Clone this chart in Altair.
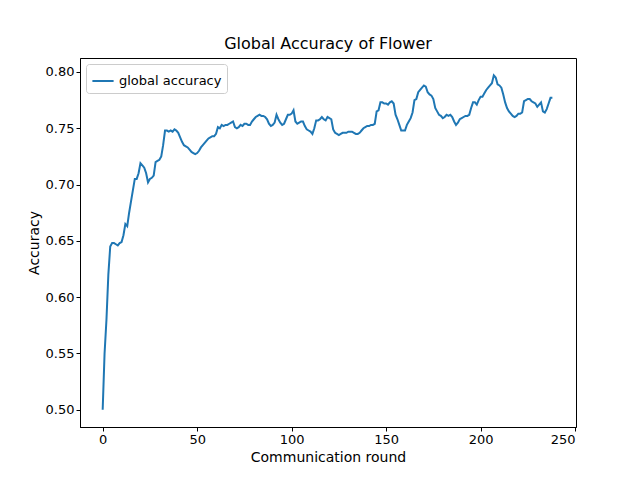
import altair as alt
import pandas as pd

accuracy = [
    0.500, 0.550, 0.580, 0.620, 0.645, 0.648, 0.648, 0.647, 0.646, 0.648,
    0.649, 0.655, 0.665, 0.663, 0.675, 0.685, 0.695, 0.705, 0.705, 0.710,
    0.719, 0.717, 0.715, 0.710, 0.702, 0.705, 0.706, 0.708, 0.720, 0.721,
    0.722, 0.725, 0.735, 0.748, 0.748, 0.747, 0.748, 0.747, 0.749, 0.748,
    0.746, 0.742, 0.738, 0.735, 0.734, 0.733, 0.731, 0.729, 0.728, 0.727,
    0.728, 0.730, 0.733, 0.735, 0.737, 0.739, 0.741, 0.742, 0.743, 0.743,
    0.745, 0.751, 0.750, 0.753, 0.752, 0.753, 0.753, 0.754, 0.755, 0.756,
    0.751, 0.750, 0.751, 0.753, 0.752, 0.754, 0.754, 0.753, 0.753, 0.756,
    0.758, 0.760, 0.761, 0.762, 0.761, 0.761, 0.760, 0.758, 0.754, 0.752,
    0.753, 0.755, 0.762, 0.758, 0.755, 0.753, 0.754, 0.758, 0.762, 0.762,
    0.763, 0.766, 0.756, 0.754, 0.755, 0.756, 0.756, 0.752, 0.749, 0.748,
    0.747, 0.745, 0.750, 0.757, 0.757, 0.758, 0.760, 0.758, 0.757, 0.760,
    0.759, 0.758, 0.749, 0.746, 0.745, 0.744, 0.745, 0.746, 0.746, 0.746,
    0.747, 0.747, 0.747, 0.746, 0.745, 0.745, 0.746, 0.748, 0.750, 0.751,
    0.752, 0.752, 0.753, 0.753, 0.754, 0.765, 0.766, 0.773, 0.773, 0.772,
    0.772, 0.771, 0.773, 0.774, 0.772, 0.762, 0.758, 0.753, 0.748, 0.748,
    0.748, 0.753, 0.756, 0.759, 0.764, 0.775, 0.776, 0.782, 0.784, 0.786,
    0.788, 0.787, 0.782, 0.780, 0.779, 0.776, 0.768, 0.765, 0.762, 0.761,
    0.759, 0.760, 0.762, 0.761, 0.762, 0.760, 0.756, 0.753, 0.755, 0.758,
    0.759, 0.760, 0.761, 0.761, 0.762, 0.768, 0.773, 0.773, 0.771, 0.775,
    0.778, 0.778, 0.781, 0.784, 0.786, 0.788, 0.790, 0.797, 0.795, 0.789,
    0.788, 0.786, 0.780, 0.773, 0.768, 0.765, 0.763, 0.761, 0.760, 0.761,
    0.763, 0.763, 0.764, 0.774, 0.775, 0.776, 0.776, 0.774, 0.773, 0.772,
    0.769, 0.771, 0.773, 0.765, 0.764, 0.767, 0.772, 0.777, 0.777,
]
rounds = list(range(len(accuracy)))

df = pd.DataFrame({"round": rounds, "acc": accuracy, "series": "global accuracy"})

font = "DejaVu Sans"
chart = (
    alt.Chart(df)
    .mark_line(strokeWidth=2, clip=True)
    .encode(
        x=alt.X("round:Q", title="Communication round",
                scale=alt.Scale(domain=[-12, 250.5], nice=False, zero=False),
                axis=alt.Axis(values=[0, 50, 100, 150, 200, 250], grid=False)),
        y=alt.Y("acc:Q", title="Accuracy",
                scale=alt.Scale(domain=[0.4847, 0.8124], nice=False, zero=False),
                axis=alt.Axis(values=[0.50, 0.55, 0.60, 0.65, 0.70, 0.75, 0.80],
                              format=".2f", grid=False)),
        color=alt.Color("series:N", scale=alt.Scale(range=["#1f77b4"]),
                        legend=alt.Legend(title=None, orient="top-left", offset=6,
                                          symbolType="stroke", symbolSize=450,
                                          symbolStrokeWidth=2,
                                          strokeColor="#cccccc", padding=5,
                                          fillColor="white", labelFontSize=13,
                                          labelFont=font, cornerRadius=3)),
    )
    .properties(
        width=496, height=369,
        title=alt.TitleParams("Global Accuracy of Flower", fontSize=16,
                              font=font, fontWeight="normal", offset=6),
        padding={"left": 72, "top": 50, "right": 56, "bottom": 45},
        autosize=alt.AutoSizeParams(type="none"),
    )
    .configure_view(stroke="black", strokeWidth=1)
    .configure_axis(labelFont=font, titleFont=font, labelFontSize=13,
                    titleFontSize=14, titleFontWeight="normal",
                    labelColor="black", titleColor="black",
                    domainColor="black", tickColor="black", tickSize=4)
)

chart.save("out.html", embed_options={"renderer": "svg", "actions": False})
